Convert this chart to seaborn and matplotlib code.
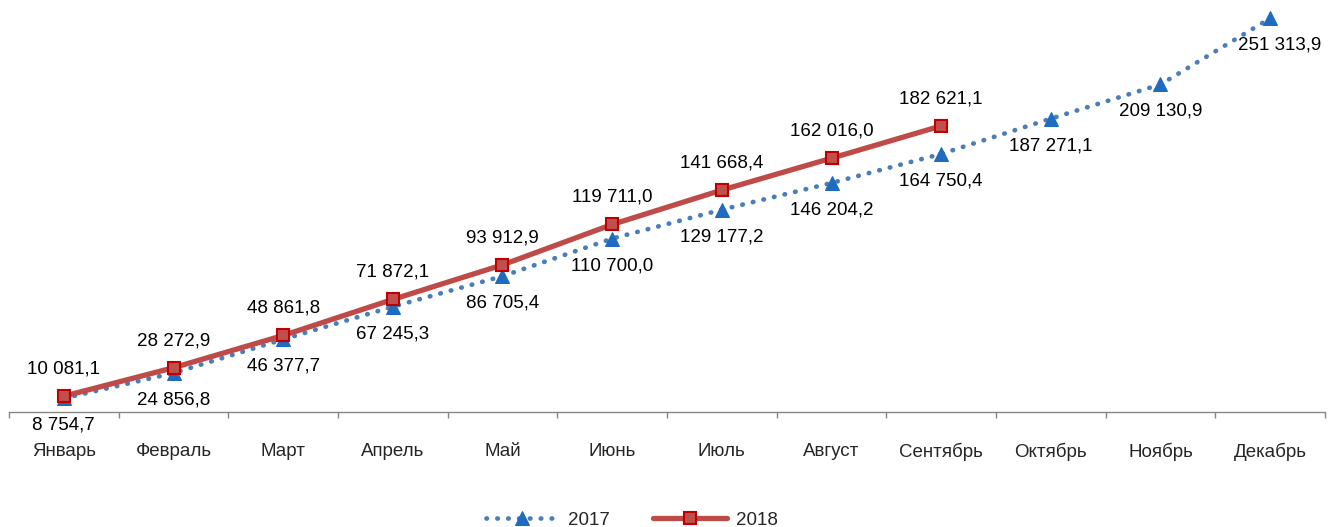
import numpy as np
import pandas as pd
import matplotlib
matplotlib.use("Agg")
import matplotlib.pyplot as plt
import seaborn as sns

# data
months = ["Январь", "Февраль", "Март", "Апрель", "Май", "Июнь", "Июль",
          "Август", "Сентябрь", "Октябрь", "Ноябрь", "Декабрь"]
v2017 = [8754.7, 24856.8, 46377.7, 67245.3, 86705.4, 110700.0, 129177.2,
         146204.2, 164750.4, 187271.1, 209130.9, 251313.9]
v2018 = [10081.1, 28272.9, 48861.8, 71872.1, 93912.9, 119711.0, 141668.4,
         162016.0, 182621.1]

sns.set_style("white")
plt.rcParams['font.family'] = ['Liberation Sans', 'DejaVu Sans']
fs = 13.5

df17 = pd.DataFrame({"x": np.arange(len(v2017)), "y": v2017})
df18 = pd.DataFrame({"x": np.arange(len(v2018)), "y": v2018})

fig = plt.figure(figsize=(13.33, 5.27), dpi=100)
ax = fig.add_axes([9 / 1333, 115 / 527, 1316 / 1333, 412 / 527])

sns.lineplot(data=df17, x="x", y="y", ax=ax, color="#4A7EBB", lw=3.4,
             linestyle=(0, (0.1, 2.2)), dash_capstyle="round",
             marker="^", markersize=10, markerfacecolor="#1F6BBF",
             markeredgecolor="#1F6BBF", label="2017")
sns.lineplot(data=df18, x="x", y="y", ax=ax, color="#BE4B48", lw=3.8,
             marker="s", markersize=9, markerfacecolor="#C0504D",
             markeredgecolor="#C00000", markeredgewidth=1.5, label="2018")

def fmt(v):
    return f"{v:,.1f}".replace(",", " ").replace(".", ",")

for i, v in enumerate(v2017):
    dx = 9 if i == len(v2017) - 1 else 0
    ax.annotate(fmt(v), (i, v), xytext=(dx, -27), textcoords="offset pixels",
                ha="center", va="center", fontsize=fs, color="#000000")
for i, v in enumerate(v2018):
    ax.annotate(fmt(v), (i, v), xytext=(0, 27), textcoords="offset pixels",
                ha="center", va="center", fontsize=fs, color="#000000")

ax.set_xlim(-0.5, 11.5)
ax.set_ylim(0, 263000)
ax.set_xticks(np.arange(12))
ax.set_xticklabels(months, fontsize=fs)
ax.set_xticks(np.arange(-0.5, 12, 1), minor=True)
ax.tick_params(axis="x", which="major", length=0, pad=22)
ax.tick_params(axis="x", which="minor", length=4, color="#868686", width=1,
               direction="out", bottom=True)
ax.set_yticks([])
ax.set_xlabel("")
ax.set_ylabel("")
for s in ["top", "right", "left"]:
    ax.spines[s].set_visible(False)
ax.spines["bottom"].set_color("#868686")
ax.spines["bottom"].set_linewidth(1)

ax.get_legend().remove()
h, l = ax.get_legend_handles_labels()
fig.legend(h, l, loc="lower center", bbox_to_anchor=(0.474, -0.035), ncol=2,
           frameon=False, fontsize=fs, handlelength=3.9, columnspacing=2.3,
           handletextpad=0.5)

fig.savefig("out.png", dpi=100)
